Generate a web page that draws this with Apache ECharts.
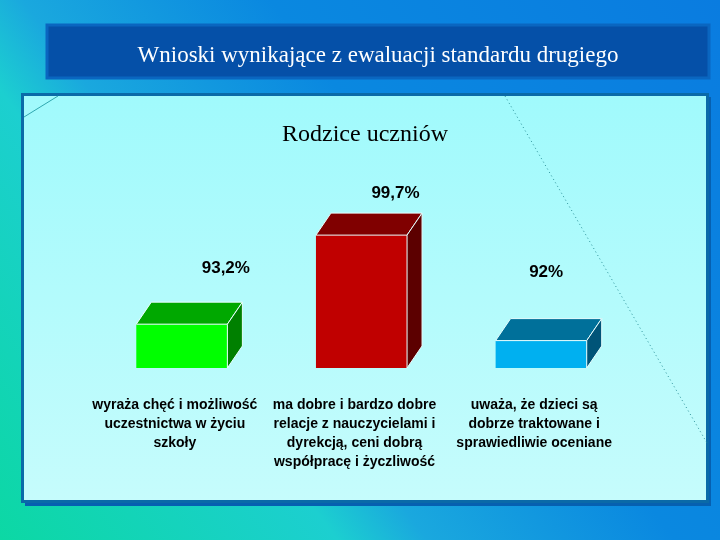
<!DOCTYPE html>
<html>
<head>
<meta charset="utf-8">
<script src="https://cdn.jsdelivr.net/npm/echarts@6/dist/echarts.min.js"></script>
<style>html,body{margin:0;padding:0;}#c{width:720px;height:540px;}</style>
</head>
<body>
<div id="c"></div>
<script>
const mainTitle = 'Wnioski wynikające z ewaluacji standardu drugiego';
const chartTitle = 'Rodzice uczniów';
const categories = [
  'wyraża chęć i możliwość\nuczestnictwa w życiu\nszkoły',
  'ma dobre i bardzo dobre\nrelacje z nauczycielami i\ndyrekcją, ceni dobrą\nwspółpracę i życzliwość',
  'uważa, że dzieci są\ndobrze traktowane i\nsprawiedliwie oceniane'
];
const values = [93.2, 99.7, 92];
const valueLabels = ['93,2%', '99,7%', '92%'];
const axisMin = 90;
const axisMax = 100;

// styles (not data)
const frontColors = ['#00ff00', '#c00000', '#00b0f0'];
const topColors = ['#00a800', '#800000', '#00709a'];
const sideColors = ['#008000', '#5c0000', '#005478'];
const labelShift = [[44, -56], [34, -42], [5, -68]];
const DX = 15, DY = -22;

const chart = echarts.init(document.getElementById('c'));

function renderItem(params, api) {
  const i = params.dataIndex;
  const x = api.value(0), v = api.value(1);
  const top = api.coord([x, v]);
  const base = api.coord([x, axisMin]);
  const w = api.size([1, 0])[0] * 0.507;
  const x0 = top[0] - w / 2, x1 = top[0] + w / 2, yT = top[1], yB = base[1];
  return {
    type: 'group',
    children: [
      { type: 'rect', shape: { x: x0, y: yT, width: w, height: yB - yT },
        style: { fill: frontColors[i] } },
      { type: 'polygon', shape: { points: [[x0, yT], [x0 + DX, yT + DY], [x1 + DX, yT + DY], [x1, yT]] },
        style: { fill: topColors[i], stroke: '#e8ffff', lineWidth: 1 } },
      { type: 'polygon', shape: { points: [[x1, yT], [x1 + DX, yT + DY], [x1 + DX, yB + DY], [x1, yB]] },
        style: { fill: sideColors[i], stroke: '#e8ffff', lineWidth: 1 } },
      { type: 'text', style: { text: valueLabels[i], x: top[0] + labelShift[i][0], y: yT + labelShift[i][1],
        align: 'center', verticalAlign: 'middle', fill: '#000',
        font: 'bold 17px "Liberation Sans", Arial, sans-serif' } }
    ]
  };
}

const option = {
  animation: false,
  backgroundColor: {
    type: 'linear', x: 0, y: 1, x2: 1, y2: 0,
    colorStops: [
      { offset: 0, color: '#0cd8a4' },
      { offset: 0.3, color: '#1ccfd0' },
      { offset: 0.38, color: '#1aa8de' },
      { offset: 0.6, color: '#0a88e0' },
      { offset: 1, color: '#0a7ce0' }
    ]
  },
  graphic: {
    elements: [
      { type: 'rect', z: -5, shape: { x: 47, y: 25, width: 662, height: 53 },
        style: { fill: '#0550a8', stroke: '#0a66c0', lineWidth: 3 } },
      { type: 'rect', z: -5, shape: { x: 25, y: 97, width: 686, height: 409 },
        style: { fill: '#0660b0' } },
      { type: 'rect', z: -4, shape: { x: 22.5, y: 94.5, width: 685, height: 407 },
        style: {
          fill: { type: 'linear', x: 0, y: 0, x2: 0, y2: 1,
            colorStops: [{ offset: 0, color: '#a0fafc' }, { offset: 1, color: '#c6fcfc' }] },
          stroke: '#0a6aa8', lineWidth: 3 } },
      { type: 'line', z: -3, shape: { x1: 24, y1: 117, x2: 58, y2: 96 },
        style: { stroke: '#30a8b0', lineWidth: 1 } },
      { type: 'line', z: -3, shape: { x1: 505, y1: 96, x2: 707, y2: 443 },
        style: { stroke: '#2a9098', lineWidth: 1, lineDash: [1, 3] } }
    ]
  },
  title: [
    { text: mainTitle, left: 373, top: 51, textAlign: 'center', textVerticalAlign: 'middle',
      textStyle: { color: '#ffffff', fontFamily: '"Liberation Serif", "Times New Roman", serif', fontSize: 23, fontWeight: 'normal' } },
    { text: chartTitle, left: 360, top: 130, textAlign: 'center', textVerticalAlign: 'middle',
      textStyle: { color: '#000000', fontFamily: '"Liberation Serif", "Times New Roman", serif', fontSize: 24, fontWeight: 'normal' } }
  ],
  grid: { left: 92, width: 539, top: 231, height: 137 },
  xAxis: {
    type: 'category', data: categories,
    axisLine: { show: false }, axisTick: { show: false }, splitLine: { show: false },
    axisLabel: { interval: 0, margin: 28, color: '#000', fontSize: 14, fontWeight: 'bold', lineHeight: 19,
      fontFamily: '"Liberation Sans", Arial, sans-serif', padding: [0, 14, 0, 0], align: 'center' }
  },
  yAxis: { type: 'value', min: axisMin, max: axisMax, show: false },
  series: [{
    type: 'custom', z: 5, renderItem: renderItem,
    data: values.map((v, i) => [i, v])
  }]
};
chart.setOption(option);
</script>
</body>
</html>
